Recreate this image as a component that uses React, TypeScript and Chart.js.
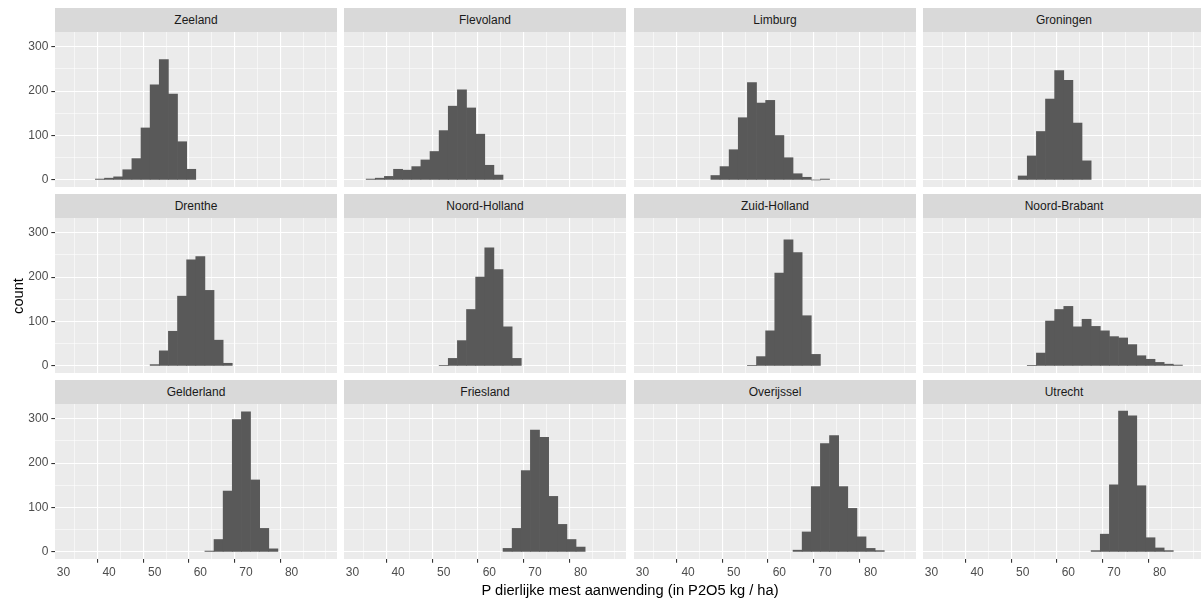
import React, { useEffect, useRef } from "react";
import { Chart, registerables } from "chart.js";

Chart.register(...registerables);

// ---------- data ----------
const provinces = [
  "Zeeland", "Flevoland", "Limburg", "Groningen",
  "Drenthe", "Noord-Holland", "Zuid-Holland", "Noord-Brabant",
  "Gelderland", "Friesland", "Overijssel", "Utrecht",
];
const binWidth = 2;
const firstBinCenter = [38, 34, 46, 50, 50, 50, 54, 52, 62, 64, 64, 66];

const zeeland = [2, 4, 7, 23, 48, 117, 214, 271, 193, 86, 24];
const flevoland = [2, 4, 8, 24, 22, 30, 45, 64, 111, 166, 203, 162, 103, 33, 11];
const limburg = [10, 30, 68, 140, 219, 173, 179, 100, 50, 14, 6, 0, 2];
const groningen = [9, 54, 109, 182, 246, 224, 128, 43];
const drenthe = [3, 34, 78, 157, 239, 246, 170, 58, 6];
const noordHolland = [1, 17, 57, 127, 200, 266, 217, 88, 17];
const zuidHolland = [1, 21, 79, 209, 284, 255, 113, 26];
const noordBrabant = [1, 29, 101, 127, 134, 88, 105, 89, 79, 66, 63, 48, 23, 15, 8, 4, 2];
const gelderland = [2, 28, 137, 298, 315, 162, 53, 7];
const friesland = [8, 53, 183, 274, 258, 125, 62, 28, 11];
const overijssel = [4, 45, 147, 244, 262, 147, 98, 34, 8, 3];
const utrecht = [3, 40, 151, 317, 306, 149, 32, 9, 3];

const countsByProvince = [
  zeeland, flevoland, limburg, groningen,
  drenthe, noordHolland, zuidHolland, noordBrabant,
  gelderland, friesland, overijssel, utrecht,
];

const xTickValues = [30, 35, 40, 45, 50, 55, 60, 65, 70, 75, 80, 85];
const yTickValues = [0, 50, 100, 150, 200, 250, 300];
const xTitle = "P dierlijke mest aanwending (in P2O5 kg / ha)";
const yTitle = "count";

// ---------- layout ----------
const X_MIN = 28.15;
const X_MAX = 89.95;
const Y_MIN = -15.85;
const Y_MAX = 332.85;
const PLOT_LEFT = [55, 344, 634, 923];
const PLOT_W = 282;
const PLOT_TOP = [32, 218, 404];
const PLOT_H = 155;
const STRIP_H = 24;
const Y_AXIS_W = 40;
const X_AXIS_H = 26;
const FONT = "'Liberation Sans', Arial, sans-serif";

const panelBg = {
  id: "panelBg",
  beforeDraw(chart: any) {
    const { ctx, chartArea } = chart;
    ctx.save();
    ctx.fillStyle = "#EBEBEB";
    ctx.fillRect(chartArea.left, chartArea.top, chartArea.right - chartArea.left, chartArea.bottom - chartArea.top);
    ctx.restore();
  },
};

function Panel({ idx }: { idx: number }) {
  const ref = useRef<HTMLCanvasElement | null>(null);
  const row = Math.floor(idx / 4);
  const col = idx % 4;
  const showY = col === 0;
  const showX = row === 2;
  const left = PLOT_LEFT[col] - (showY ? Y_AXIS_W : 0);
  const top = PLOT_TOP[row];
  const width = PLOT_W + (showY ? Y_AXIS_W : 0);
  const height = PLOT_H + (showX ? X_AXIS_H : 0);

  useEffect(() => {
    if (!ref.current) return;
    const counts = countsByProvince[idx];
    const data = counts.map((c, i) => ({ x: firstBinCenter[idx] + i * binWidth, y: c }));
    const zeroPad = (s: any) => {
      s.paddingTop = 0;
      s.paddingBottom = 0;
      s.paddingLeft = 0;
      s.paddingRight = 0;
    };
    const chart = new Chart(ref.current, {
      type: "bar",
      data: {
        datasets: [
          {
            data,
            backgroundColor: "#595959",
            borderWidth: 0,
            categoryPercentage: 1,
            barPercentage: 1,
          } as any,
        ],
      },
      options: {
        animation: false,
        responsive: false,
        maintainAspectRatio: false,
        events: [],
        layout: { padding: 0 },
        plugins: { legend: { display: false }, tooltip: { enabled: false } },
        scales: {
          x: {
            type: "linear",
            min: X_MIN,
            max: X_MAX,
            offset: false,
            afterBuildTicks: (s: any) => {
              s.ticks = xTickValues.map((v) => ({ value: v }));
            },
            afterFit: (s: any) => {
              s.height = showX ? X_AXIS_H : 0;
              zeroPad(s);
            },
            border: { display: false },
            grid: {
              color: "#FFFFFF",
              lineWidth: (ctx: any) => (ctx.tick && ctx.tick.value % 10 === 0 ? 1.1 : 0.55),
              drawTicks: showX,
              tickLength: 3.7,
              tickWidth: 1.1,
              tickColor: (ctx: any) => (ctx.tick && ctx.tick.value % 10 === 0 ? "#333333" : "rgba(0,0,0,0)"),
            },
            ticks: {
              display: showX,
              autoSkip: false,
              maxRotation: 0,
              padding: 3,
              color: "#4D4D4D",
              font: { family: FONT, size: 12 },
              callback: (v: any) => (Number(v) % 10 === 0 ? String(v) : ""),
            },
          },
          y: {
            type: "linear",
            min: Y_MIN,
            max: Y_MAX,
            afterBuildTicks: (s: any) => {
              s.ticks = yTickValues.map((v) => ({ value: v }));
            },
            afterFit: (s: any) => {
              s.width = showY ? Y_AXIS_W : 0;
              zeroPad(s);
            },
            border: { display: false },
            grid: {
              color: "#FFFFFF",
              lineWidth: (ctx: any) => (ctx.tick && ctx.tick.value % 100 === 0 ? 1.1 : 0.55),
              drawTicks: showY,
              tickLength: 3.7,
              tickWidth: 1.1,
              tickColor: (ctx: any) => (ctx.tick && ctx.tick.value % 100 === 0 ? "#333333" : "rgba(0,0,0,0)"),
            },
            ticks: {
              display: showY,
              autoSkip: false,
              padding: 3,
              color: "#4D4D4D",
              font: { family: FONT, size: 12 },
              callback: (v: any) => (Number(v) % 100 === 0 ? String(v) : ""),
            },
          },
        },
      } as any,
      plugins: [panelBg],
    });
    return () => chart.destroy();
  }, [idx]);

  return (
    <>
      <div
        style={{
          position: "absolute",
          left: PLOT_LEFT[col],
          top: PLOT_TOP[row] - STRIP_H,
          width: PLOT_W,
          height: STRIP_H,
          background: "#D9D9D9",
          color: "#1A1A1A",
          fontFamily: FONT,
          fontSize: 12,
          lineHeight: `${STRIP_H}px`,
          textAlign: "center",
        }}
      >
        {provinces[idx]}
      </div>
      <canvas
        ref={ref}
        width={width}
        height={height}
        style={{ position: "absolute", left, top, width, height }}
      />
    </>
  );
}

export default function App() {
  return (
    <div
      style={{
        position: "fixed",
        left: 0,
        top: 0,
        width: 1201,
        height: 601,
        overflow: "hidden",
        background: "#FFFFFF",
      }}
    >
      {provinces.map((_, i) => (
        <Panel key={i} idx={i} />
      ))}
      <div
        style={{
          position: "absolute",
          left: 330,
          width: 600,
          top: 581,
          textAlign: "center",
          fontFamily: FONT,
          fontSize: 14.67,
          lineHeight: "18px",
          color: "#000000",
        }}
      >
        {xTitle}
      </div>
      <div
        style={{
          position: "absolute",
          left: 17.7 - 50,
          top: 295.5 - 9,
          width: 100,
          height: 18,
          lineHeight: "18px",
          textAlign: "center",
          transform: "rotate(-90deg)",
          fontFamily: FONT,
          fontSize: 14.67,
          color: "#000000",
        }}
      >
        {yTitle}
      </div>
    </div>
  );
}
